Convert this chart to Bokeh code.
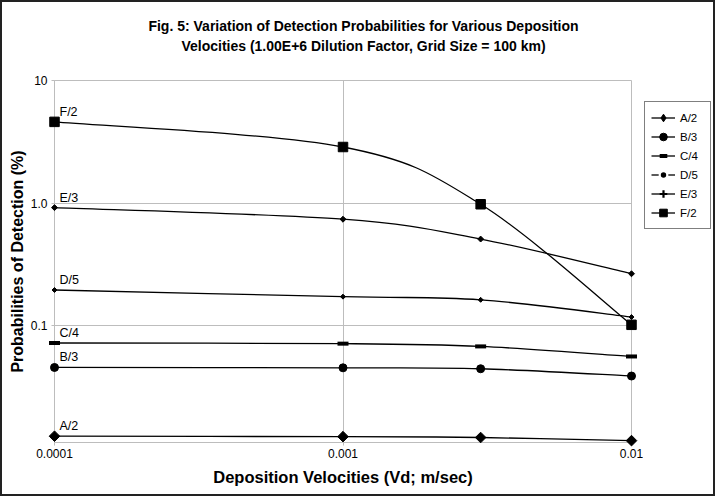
import math
from bokeh.plotting import figure
from bokeh.layouts import row
from bokeh.models import (Range1d, FixedTicker, Legend, LegendItem, ColumnDataSource)
from bokeh.core.properties import value
from bokeh.embed import file_html
from bokeh.resources import INLINE

# ---- data ----
velocities = [0.0001, 0.001, 0.003, 0.01]
series_names = ["A/2", "B/3", "C/4", "D/5", "E/3", "F/2"]
a2 = [0.0126, 0.0125, 0.0123, 0.0116]
b3 = [0.0458, 0.0455, 0.0447, 0.039]
c4 = [0.0725, 0.0716, 0.068, 0.0563]
d5 = [0.196, 0.173, 0.163, 0.118]
e3 = [0.92, 0.74, 0.51, 0.266]
f2 = [4.6, 2.87, 0.98, 0.102]
series_values = [a2, b3, c4, d5, e3, f2]
x_ticks = [0.0001, 0.001, 0.01]
x_tick_labels = ["0.0001", "0.001", "0.01"]
y_ticks = [0.1, 1.0, 10.0]
y_tick_labels = ["0.1", "1.0", "10"]
title_lines = ["Fig. 5: Variation of Detection Probabilities for Various Deposition",
               "Velocities (1.00E+6 Dilution Factor, Grid Size = 100 km)"]

FONT = "Liberation Sans"
GRID = "#bdbdbd"
X_START, X_END = 0.0001, 0.01
Y_START, Y_END = 0.0112, 10

p = figure(width=641, height=492, x_axis_type="log", y_axis_type="log",
           x_range=Range1d(X_START, X_END), y_range=Range1d(Y_START, Y_END),
           output_backend="svg", toolbar_location=None,
           min_border_left=52, min_border_right=12, min_border_top=78, min_border_bottom=52,
           background_fill_color="white", border_fill_color="white")
p.outline_line_color = GRID

# title: two centred lines anchored at the frame's top-left corner
p.text(x=[X_START, X_START], y=[Y_END, Y_END], text=title_lines,
       x_offset=309, y_offset=[-55, -35], text_align="center", text_baseline="middle",
       text_font=value(FONT), text_font_size="14px", text_font_style="bold",
       text_color="black", level="overlay")

# axes
p.xaxis.ticker = FixedTicker(ticks=x_ticks)
p.yaxis.ticker = FixedTicker(ticks=y_ticks)
p.xaxis.major_label_overrides = {t: l for t, l in zip(x_ticks, x_tick_labels)}
p.yaxis.major_label_overrides = {t: l for t, l in zip(y_ticks, y_tick_labels)}
for ax in (p.xaxis, p.yaxis):
    ax.minor_tick_line_color = None
    ax.axis_line_color = GRID
    ax.major_tick_line_color = GRID
    ax.major_tick_in = 0
    ax.major_tick_out = 3
    ax.major_label_text_font = FONT
    ax.major_label_text_font_size = "12px"
    ax.major_label_text_color = "black"
    ax.axis_label_text_font = FONT
    ax.axis_label_text_font_style = "bold"
    ax.axis_label_text_color = "black"
p.xaxis.axis_label = "Deposition Velocities (Vd; m/sec)"
p.yaxis.axis_label = "Probabilities of Detection (%)"
p.xaxis.axis_label_text_font_size = "16.5px"
p.yaxis.axis_label_text_font_size = "16px"
p.xaxis.major_label_standoff = 3
p.xaxis.axis_label_standoff = 7
p.yaxis.major_label_standoff = 4
p.yaxis.axis_label_standoff = 2

p.xgrid.ticker = FixedTicker(ticks=x_ticks)
p.ygrid.ticker = FixedTicker(ticks=y_ticks)
p.xgrid.grid_line_color = GRID
p.ygrid.grid_line_color = GRID

# plotted markers (rotated squares give Excel-like diamonds)
marker_styles = {
    "A/2": dict(marker="square", size=7.5, angle=math.pi / 4),
    "B/3": dict(marker="circle", size=8),
    "C/4": dict(marker="dash", size=11, line_width=4),
    "D/5": dict(marker="square", size=3.5, angle=math.pi / 4),
    "E/3": dict(marker="square", size=4.2, angle=math.pi / 4),
    "F/2": dict(marker="square", size=9.5),
}
# markers as drawn inside the legend
legend_markers = {"A/2": ("diamond", 1), "B/3": ("circle", 1), "C/4": ("dash", 4),
                  "D/5": ("circle_dot", 0.1), "E/3": ("cross", 2.2), "F/2": ("square", 1)}


def bezier_segments(xs, ys):
    lx = [math.log10(v) for v in xs]
    ly = [math.log10(v) for v in ys]
    n = len(lx)
    seg = dict(x0=[], y0=[], x1=[], y1=[], cx0=[], cy0=[], cx1=[], cy1=[])
    for i in range(n - 1):
        im1 = max(i - 1, 0)
        ip2 = min(i + 2, n - 1)
        c0x = lx[i] + (lx[i + 1] - lx[im1]) / 6
        c0y = ly[i] + (ly[i + 1] - ly[im1]) / 6
        c1x = lx[i + 1] - (lx[ip2] - lx[i]) / 6
        c1y = ly[i + 1] - (ly[ip2] - ly[i]) / 6
        seg["x0"].append(xs[i]); seg["y0"].append(ys[i])
        seg["x1"].append(xs[i + 1]); seg["y1"].append(ys[i + 1])
        seg["cx0"].append(10 ** c0x); seg["cy0"].append(10 ** c0y)
        seg["cx1"].append(10 ** c1x); seg["cy1"].append(10 ** c1y)
    return seg


# legend panel: a small figure beside the chart (its frame aligns with the chart's)
pl = figure(width=70, height=492, x_range=Range1d(0, 1), y_range=Range1d(0, 1),
            output_backend="svg", toolbar_location=None, min_border=0,
            x_axis_location=None, y_axis_location=None,
            background_fill_color="white", border_fill_color="white")
pl.outline_line_color = None
pl.grid.visible = False
OFF = [-10.0, -9.0]  # swatch renderers sit outside the legend figure's view

items = []
for name, vals in zip(series_names, series_values):
    src = ColumnDataSource(bezier_segments(velocities, vals))
    p.bezier(x0="x0", y0="y0", x1="x1", y1="y1", cx0="cx0", cy0="cy0", cx1="cx1", cy1="cy1",
             source=src, line_color="black", line_width=1.3, level="overlay")
    st = dict(marker_styles[name])
    lw = st.pop("line_width", 1)
    p.scatter(velocities, vals, fill_color="black", line_color="black", line_width=lw,
              level="overlay", **st)
    lm, llw = legend_markers[name]
    lline = pl.line(x=OFF, y=OFF, line_color="black", line_width=1.3)
    if name == "D/5":
        lmark = pl.scatter(x=OFF[:1], y=OFF[:1], marker="circle", fill_color="black",
                           line_color="white", line_width=2.2)
    else:
        lmark = pl.scatter(x=OFF[:1], y=OFF[:1], marker=lm, fill_color="black",
                           line_color="black", line_width=llw)
    items.append(LegendItem(label=name, renderers=[lline, lmark]))

# series labels at first point
p.text(x=[velocities[0]] * len(series_names), y=[v[0] for v in series_values], text=series_names,
       x_offset=5, y_offset=-10, text_font=value(FONT), text_font_size="12.5px",
       text_color="black", text_baseline="alphabetic", level="overlay")

legend = Legend(items=items, location=(1, 213), orientation="vertical",
                label_text_font=FONT, label_text_font_size="11.5px", label_text_color="black",
                glyph_width=24, glyph_height=19, label_height=19, label_width=24,
                label_standoff=5, spacing=0, padding=6, margin=0,
                border_line_color="black", border_line_width=1,
                background_fill_color="white", background_fill_alpha=1)
pl.add_layout(legend, "center")

layout = row(p, pl, styles={"border": "2px solid #222"})
open("out.html", "w").write(file_html(layout, INLINE))
